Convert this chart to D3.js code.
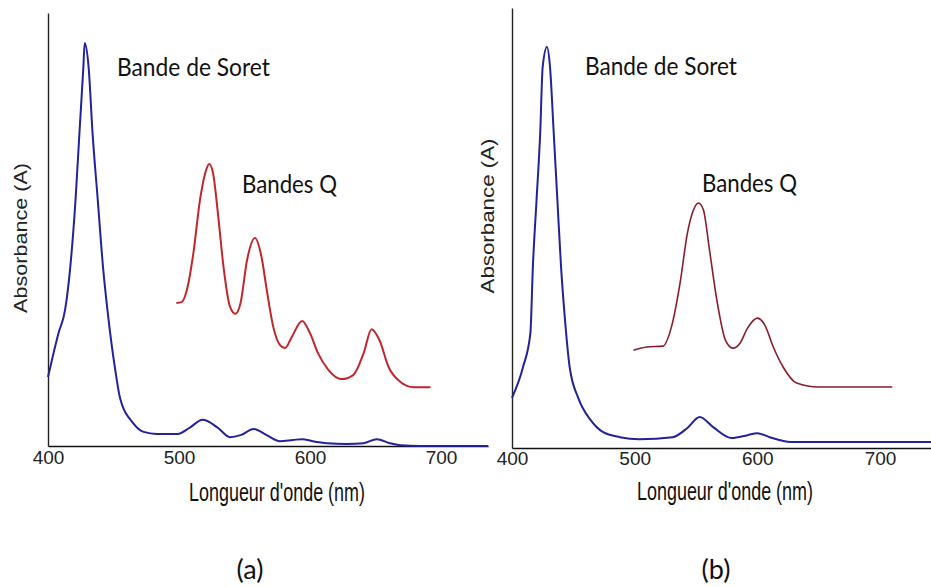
<!DOCTYPE html>
<html><head><meta charset="utf-8">
<script src="https://cdn.jsdelivr.net/npm/d3@7"></script>
<style>body{margin:0;background:#fff}svg{display:block}</style>
</head><body>
<svg id="c" width="931" height="587"></svg>
<script>
// ---------- DATA ----------
const tickLabels = [400, 500, 600, 700];
// Panel (a) – Soret / full spectrum (blue)
const aBlueNm = [400,408,413,417,421,424,427,428,431,434,438,442,446,451,455,465,473,483,499,508,518,529,539,547,557,567,577,587,594,602,613,628,641,651,661,669,684,736];
const aBlueA  = [0.171,0.280,0.337,0.444,0.610,0.777,0.940,1.000,0.940,0.777,0.610,0.444,0.320,0.196,0.119,0.057,0.035,0.030,0.030,0.045,0.065,0.047,0.022,0.027,0.042,0.027,0.012,0.015,0.017,0.012,0.007,0.005,0.007,0.017,0.007,0.002,0.000,0.000];
// Panel (a) – Q bands zoom (red)
const aRedNm = [498,502,506,511,516,520,523,526,530,534,539,543,547,552,558,563,567,572,577,581,586,594,600,606,614,624,633,641,647,653,660,669,679,692];
const aRedA  = [0.355,0.357,0.387,0.479,0.610,0.677,0.700,0.677,0.568,0.444,0.345,0.328,0.355,0.462,0.516,0.469,0.387,0.295,0.251,0.243,0.270,0.310,0.280,0.231,0.189,0.166,0.176,0.231,0.290,0.263,0.196,0.159,0.146,0.146];
// Panel (b) – Soret / full spectrum (blue)
const bBlueNm = [400,409,415,417,420,423,425,428.5,431,434,437,440,443,447,454,464,474,488,504,531,543,553,564,579,592,600,610,627,742];
const bBlueA  = [0.125,0.202,0.287,0.451,0.618,0.786,0.950,1.000,0.950,0.786,0.618,0.451,0.327,0.202,0.125,0.070,0.040,0.027,0.022,0.027,0.050,0.077,0.052,0.025,0.032,0.037,0.027,0.015,0.015];
// Panel (b) – Q bands zoom (red)
const bRedNm = [499,510,523,530,537,543,548,552,556,561,567,574,580,586,592,600,606,613,621,632,650,710];
const bRedA  = [0.244,0.252,0.254,0.302,0.411,0.536,0.594,0.611,0.594,0.494,0.369,0.269,0.249,0.262,0.299,0.324,0.307,0.252,0.202,0.162,0.152,0.152];

const labels = {
  soret: "Bande de Soret",
  q: "Bandes Q",
  xTitle: "Longueur d'onde (nm)",
  yTitle: "Absorbance (A)",
  panels: ["(a)", "(b)"]
};

// ---------- DRAW ----------
const svg = d3.select("#c");
const narrow = "'Liberation Sans Narrow','Arial Narrow','Liberation Sans',Arial,sans-serif";
const sans = "'Liberation Sans',Arial,sans-serif";
const calib = "Lato,'Open Sans',sans-serif";

const panels = [
  { id:"a", x0:48, xEnd:488, px700:441, yBase:446, yPeak:43, yTop:13,
    blue:[aBlueNm,aBlueA], red:[aRedNm,aRedA], redColor:"#c2262c", redW:2,
    soret:[117,76,153], q:[242,193,95], xt:[277,501], yt:[27,238,150], cap:[250,579], tickDy:5 },
  { id:"b", x0:512, xEnd:931, px700:880, yBase:448, yPeak:47, yTop:8,
    blue:[bBlueNm,bBlueA], red:[bRedNm,bRedA], redColor:"#8a1c2c", redW:1.6,
    soret:[585,75,152], q:[702,192,95], xt:[725,500], yt:[494,216,155], cap:[716,579], tickDy:3 }
];

panels.forEach((p, i) => {
  const pxPerNm = (p.px700 - p.x0) / 300;
  const x = d3.scaleLinear().domain([400, 400 + (p.xEnd - p.x0) / pxPerNm]).range([p.x0, p.xEnd]);
  const y = d3.scaleLinear().domain([0, 1]).range([p.yBase, p.yPeak]);
  const g = svg.append("g");

  // axes
  const xa = d3.axisBottom(x).tickValues(tickLabels).tickSize(0).tickSizeOuter(0).tickPadding(p.tickDy).tickFormat(d3.format("d"));
  const gx = g.append("g").attr("transform", `translate(0,${p.yBase})`).call(xa);
  gx.select(".domain").attr("stroke", "#111").attr("stroke-width", 1.6);
  gx.selectAll("text").attr("font-family", narrow).attr("font-size", 19).attr("fill", "#222");

  const yScaleAxis = d3.scaleLinear().domain([0, 1]).range([p.yBase, p.yTop]);
  const ya = d3.axisLeft(yScaleAxis).tickValues([]).tickSizeOuter(0);
  const gy = g.append("g").attr("transform", `translate(${p.x0},0)`).call(ya);
  gy.select(".domain").attr("stroke", "#222").attr("stroke-width", 1.4);

  const line = d3.line().x(d => x(d[0])).y(d => y(d[1])).curve(d3.curveMonotoneX);
  const zip = (a, b) => a.map((v, k) => [v, b[k]]);

  g.append("path").datum(zip(p.blue[0], p.blue[1]))
    .attr("d", line).attr("fill", "none").attr("stroke", "#22229c").attr("stroke-width", 2);
  g.append("path").datum(zip(p.red[0], p.red[1]))
    .attr("d", line).attr("fill", "none").attr("stroke", p.redColor).attr("stroke-width", p.redW);

  // annotations
  g.append("text").attr("x", p.soret[0]).attr("y", p.soret[1]).attr("textLength", p.soret[2])
    .attr("lengthAdjust", "spacingAndGlyphs").attr("font-family", calib).attr("font-size", 25).attr("fill", "#111").text(labels.soret);
  g.append("text").attr("x", p.q[0]).attr("y", p.q[1]).attr("textLength", p.q[2])
    .attr("lengthAdjust", "spacingAndGlyphs").attr("font-family", calib).attr("font-size", 25).attr("fill", "#111").text(labels.q);

  g.append("text").attr("x", p.xt[0]).attr("y", p.xt[1]).attr("text-anchor", "middle")
    .attr("textLength", 176).attr("lengthAdjust", "spacingAndGlyphs")
    .attr("font-family", narrow).attr("font-size", 25).attr("fill", "#111").text(labels.xTitle);

  g.append("text").attr("transform", `translate(${p.yt[0]},${p.yt[1]}) rotate(-90)`).attr("text-anchor", "middle")
    .attr("textLength", p.yt[2]).attr("lengthAdjust", "spacingAndGlyphs")
    .attr("font-family", sans).attr("font-size", 18).attr("fill", "#222").text(labels.yTitle);

  g.append("text").attr("x", p.cap[0]).attr("y", p.cap[1]).attr("text-anchor", "middle")
    .attr("font-family", calib).attr("font-size", 27).attr("fill", "#111").text(labels.panels[i]);
});
</script>
</body></html>
